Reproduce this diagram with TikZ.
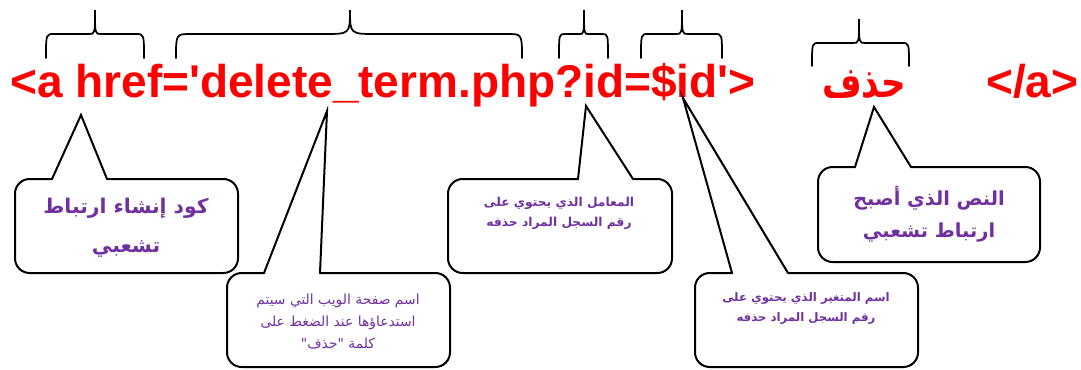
\documentclass[tikz,border=0pt]{standalone}
\usepackage{fontspec}
\TeXXeTstate=1
\newfontfamily\codefont{Liberation Sans}
\newfontfamily\arabicfont[Script=Arabic]{DejaVu Sans}
\definecolor{notepurple}{RGB}{112,48,160}
\tikzset{
  brace/.style={line width=1.3pt, line cap=round},
  balloon/.style={line width=1.5pt, rounded corners=11pt, line cap=round},
  wedge/.style={line width=1.5pt, line join=miter, line cap=round},
  code/.style={text=red, font=\codefont\bfseries\fontsize{34.5}{40}\selectfont, inner sep=0pt, anchor=base west},
  note/.style={text=notepurple, align=center, inner sep=0pt},
}
\begin{document}
\begin{tikzpicture}[x=0.75pt, y=-0.75pt]
        \useasboundingbox (0,0) rectangle (1081,369);
        \node [code] (code) at (10,97) {<a href=\textquotesingle delete\_term.php?id=\$id\textquotesingle>};
        \node [code, anchor=base, font=\arabicfont\bfseries\fontsize{32}{40}\selectfont] (del) at (864,97) {\scalebox{0.8}[1]{\beginR حذف\endR}};
        \node [code] (close) at (986,97) {</a>};
        \foreach \l/\t/\r/\b/\m/\h/\e/\c in {46/95/144/58/34/10/8/6, 176/350/522/58/34/10/15/26, 559/584/608/58/34/10/6/4.5, 641/682/722/58/34/10/7/6, 812/859/909/66/43/19/7/6}{
          \draw[brace] (\l,\b) .. controls (\l,\m) .. (\l+\e,\m) -- (\t-\c,\m) .. controls (\t,\m) .. (\t,\h) .. controls (\t,\m) .. (\t+\c,\m) -- (\r-\e,\m) .. controls (\r,\m) .. (\r,\b);
        }
        \foreach \xa/\ya/\xb/\yb/\ba/\bb/\tx/\ty in {15/179/238/273/52/107/81/115, 227/273/450/367/264/320/327/111, 448/179/672/273/578/633/586/106, 695/273/918/367/732/788/683/98, 818/167/1040/262/855/911/874/107}{
          \draw[balloon] (\bb,\ya) -- (\xb,\ya) -- (\xb,\yb) -- (\xa,\yb) -- (\xa,\ya) -- (\ba,\ya);
          \draw[wedge] (\ba,\ya) -- (\tx,\ty) -- (\bb,\ya);
        }
        \node [note, font=\arabicfont\bfseries\fontsize{15.2}{29}\selectfont] (link) at (126,228) {\beginR كود إنشاء ارتباط\endR\\\beginR تشعبي\endR};
        \node [note, font=\arabicfont\fontsize{10.4}{16.5}\selectfont] (page) at (338,322) {\beginR اسم صفحة الويب التي سيتم\endR\\\beginR استدعاؤها عند الضغط على\endR\\\beginR كلمة "حذف"\endR};
        \node [note, font=\arabicfont\bfseries\fontsize{9.2}{15}\selectfont] (param) at (559,213) {\beginR المعامل الذي يحتوي على\endR\\\beginR رقم السجل المراد حذفه\endR};
        \node [note, font=\arabicfont\bfseries\fontsize{8.8}{15}\selectfont] (var) at (806,308) {\beginR اسم المتغير الذي يحتوي على\endR\\\beginR رقم السجل المراد حذفه\endR};
        \node [note, font=\arabicfont\bfseries\fontsize{14.5}{24}\selectfont] (text) at (929,214) {\beginR النص الذي أصبح\endR\\\beginR ارتباط تشعبي\endR};
\end{tikzpicture}
\end{document}
